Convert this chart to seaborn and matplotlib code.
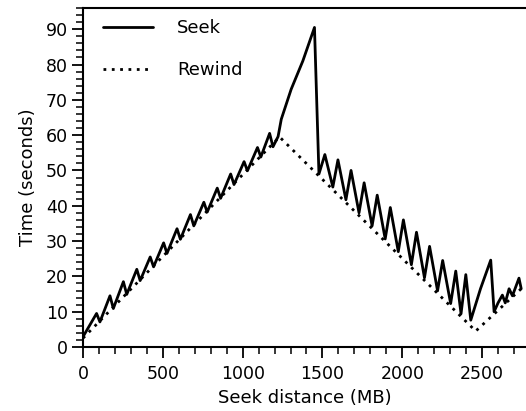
import matplotlib
matplotlib.use("Agg")
import matplotlib.pyplot as plt
import seaborn as sns
import pandas as pd
from matplotlib.ticker import MultipleLocator

# ---- data ----
seek_x = [0, 85, 106, 169, 190, 253, 274, 337, 358, 421, 442, 505, 526, 589, 610,
          673, 694, 757, 778, 841, 862, 925, 946, 1009, 1030, 1093, 1114, 1169, 1190,
          1222, 1242, 1304, 1377, 1450, 1478,
          1515, 1565, 1597, 1647, 1679, 1729, 1761, 1811, 1843, 1893, 1925, 1975,
          2007, 2057, 2089, 2139, 2171, 2221, 2253, 2303, 2335, 2368, 2398, 2429,
          2490, 2554, 2575, 2600, 2627, 2645, 2669, 2690, 2731, 2745]
seek_y = [2.9, 9.5, 7.1, 14.5, 10.9, 18.5, 14.9, 22.0, 18.8, 25.5, 22.7, 29.5, 26.5, 33.5, 30.5,
          37.5, 34.3, 41.0, 38.2, 45.0, 42.1, 49.0, 46.0, 52.5, 49.9, 56.5, 53.8, 60.5, 56.7,
          59.6, 64.5, 73.0, 81.0, 90.5, 49.0,
          54.5, 45.3, 53.0, 41.7, 50.0, 38.0, 46.5, 34.3, 43.0, 30.6, 39.5, 27.0,
          36.0, 23.3, 32.5, 19.6, 28.5, 15.9, 24.5, 12.3, 21.5, 9.4, 20.5, 7.6,
          16.5, 24.6, 10.0, 12.5, 14.7, 12.5, 16.5, 14.5, 19.5, 16.5]

rewind_x = [0, 1231, 2460, 2745]
rewind_y = [2.5, 59.5, 4.5, 16.5]

x_ticks = [0, 500, 1000, 1500, 2000, 2500]
y_ticks = [0, 10, 20, 30, 40, 50, 60, 70, 80, 90]

seek_df = pd.DataFrame({"x": seek_x, "y": seek_y})
rewind_df = pd.DataFrame({"x": rewind_x, "y": rewind_y})

# ---- style ----
sns.set_style("ticks")
plt.rcParams["font.family"] = ["DejaVu Sans"]
plt.rcParams["text.color"] = "black"
plt.rcParams["axes.labelcolor"] = "black"
plt.rcParams["xtick.color"] = "black"
plt.rcParams["ytick.color"] = "black"

fig = plt.figure(figsize=(5.26, 4.11), dpi=100)
ax = fig.add_axes([0.1578, 0.1557, 0.8422, 0.8248])

sns.lineplot(data=seek_df, x="x", y="y", ax=ax, sort=False, estimator=None,
             color="black", linewidth=2.0, label="Seek")
sns.lineplot(data=rewind_df, x="x", y="y", ax=ax, sort=False, estimator=None,
             color="black", linewidth=2.0, linestyle=(0, (1, 2)), label="Rewind")

ax.set_xlim(0, 2775)
ax.set_ylim(0, 96)
ax.set_xticks(x_ticks)
ax.set_yticks(y_ticks)
ax.xaxis.set_minor_locator(MultipleLocator(100))
ax.yaxis.set_minor_locator(MultipleLocator(2))

for s in ["left", "bottom", "top"]:
    ax.spines[s].set_linewidth(1.5)
    ax.spines[s].set_color("black")
ax.spines["right"].set_visible(False)

ax.tick_params(axis="both", which="major", direction="out", length=8, width=1.3,
               labelsize=12.5, colors="black", labelcolor="black")
ax.tick_params(axis="both", which="minor", direction="out", length=5, width=1.1,
               colors="black")
ax.tick_params(axis="x", which="major", pad=5)
ax.tick_params(axis="y", which="major", pad=3)

ax.set_xlabel("Seek distance (MB)", fontsize=13, labelpad=4, color="black")
ax.set_ylabel("Time (seconds)", fontsize=13, labelpad=6, color="black")

leg = ax.legend(loc="upper left", bbox_to_anchor=(0.045, 0.968), frameon=False,
                fontsize=13, handlelength=2.8, handletextpad=1.3,
                labelspacing=1.35, borderpad=0, borderaxespad=0)
for t in leg.get_texts():
    t.set_color("black")

fig.savefig("out.png", dpi=100)
